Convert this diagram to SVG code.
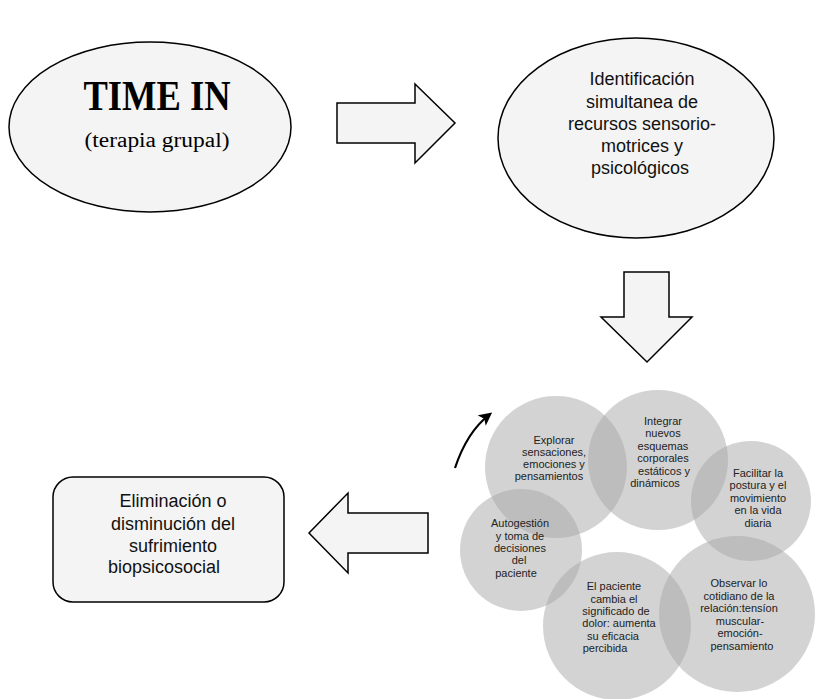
<svg xmlns="http://www.w3.org/2000/svg" width="834" height="699" viewBox="0 0 834 699">
<defs>
<style>
.node{fill:#f4f4f4;stroke:#000;stroke-width:1.5}
.blk{fill:#f4f4f4;stroke:#000;stroke-width:1.5;stroke-linejoin:miter}
.t{font-family:"Liberation Sans",Arial,Helvetica,sans-serif;font-size:18px;fill:#111;text-anchor:middle}
.s{font-family:"Liberation Sans",Arial,Helvetica,sans-serif;font-size:11px;fill:#222;text-anchor:middle}
.c{fill:#a8a8a8;fill-opacity:0.5}
</style>
<marker id="ah" viewBox="0 0 10 10" refX="7" refY="5" markerWidth="6" markerHeight="6" markerUnits="strokeWidth" orient="auto">
<path d="M0,0 L10,5 L0,10 L2.5,5 z" fill="#000"/>
</marker>
</defs>
<rect width="834" height="699" fill="#fff"/>

<g id="time-in">
<ellipse class="node" cx="150" cy="127" rx="141" ry="85"/>
<text x="157" y="110" font-family="'Liberation Serif','Times New Roman',serif" font-weight="bold" font-size="42" text-anchor="middle" textLength="147" lengthAdjust="spacingAndGlyphs">TIME IN</text>
<text x="157" y="147" font-family="'Liberation Serif','Times New Roman',serif" font-size="20" text-anchor="middle" textLength="145" lengthAdjust="spacingAndGlyphs">(terapia grupal)</text>
</g>

<g id="identificacion">
<ellipse class="node" cx="636" cy="138" rx="138" ry="100"/>
<text class="t" x="642" y="85">Identificación</text>
<text class="t" x="642" y="108">simultanea de</text>
<text class="t" x="642" y="130">recursos sensorio-</text>
<text class="t" x="642" y="152">motrices y</text>
<text class="t" x="640" y="174">psicológicos</text>
</g>

<g id="eliminacion">
<rect class="node" x="53" y="477" width="231" height="125" rx="20" ry="20"/>
<text class="t" x="173" y="507">Eliminación o</text>
<text class="t" x="173" y="530">disminución del</text>
<text class="t" x="173" y="552">sufrimiento</text>
<text class="t" x="164" y="573">biopsicosocial</text>
</g>

<g id="ciclo">
<circle class="c" cx="556" cy="467" r="71"/>
<circle class="c" cx="658" cy="460" r="70"/>
<circle class="c" cx="751" cy="501" r="60"/>
<circle class="c" cx="521" cy="550" r="61"/>
<circle class="c" cx="617" cy="626" r="74"/>
<circle class="c" cx="737" cy="614" r="78"/>
<g id="explorar">
<text class="s" x="554" y="444">Explorar</text>
<text class="s" x="554" y="456">sensaciones,</text>
<text class="s" x="554" y="468">emociones y</text>
<text class="s" x="549" y="480">pensamientos</text>
</g>
<g id="integrar">
<text class="s" x="663" y="425">Integrar</text>
<text class="s" x="663" y="437">nuevos</text>
<text class="s" x="663" y="450">esquemas</text>
<text class="s" x="663" y="462">corporales</text>
<text class="s" x="664" y="475">estáticos y</text>
<text class="s" x="655" y="487">dinámicos</text>
</g>
<g id="facilitar">
<text class="s" x="758" y="477">Facilitar la</text>
<text class="s" x="758" y="489">postura y el</text>
<text class="s" x="758" y="502">movimiento</text>
<text class="s" x="758" y="514">en la vida</text>
<text class="s" x="758" y="527">diaria</text>
</g>
<g id="autogestion">
<text class="s" x="520" y="527">Autogestión</text>
<text class="s" x="520" y="540">y toma de</text>
<text class="s" x="520" y="552">decisiones</text>
<text class="s" x="519" y="564">del</text>
<text class="s" x="516" y="577">paciente</text>
</g>
<g id="paciente">
<text class="s" x="614" y="590">El paciente</text>
<text class="s" x="614" y="603">cambia el</text>
<text class="s" x="616" y="615">significado de</text>
<text class="s" x="619" y="627">dolor: aumenta</text>
<text class="s" x="613" y="640">su eficacia</text>
<text class="s" x="605" y="652">percibida</text>
</g>
<g id="observar">
<text class="s" x="739" y="587">Observar lo</text>
<text class="s" x="739" y="600">cotidiano de la</text>
<text class="s" x="739" y="612">relación:tensíon</text>
<text class="s" x="740" y="625">muscular-</text>
<text class="s" x="740" y="637">emoción-</text>
<text class="s" x="742" y="650">pensamiento</text>
</g>
</g>

<g id="connectors">
<path class="blk" d="M337,103 L415,103 L415,84 L455,123 L415,163 L415,143 L337,143 Z"/>
<path class="blk" d="M624,272 L669,272 L669,317 L692,317 L647,362 L601,317 L624,317 Z"/>
<path class="blk" d="M428,513 L348,513 L348,493 L309,533 L348,573 L348,553 L428,553 Z"/>
<path d="M455,468 Q467,432 489,415" fill="none" stroke="#000" stroke-width="2.2" marker-end="url(#ah)"/>
</g>
</svg>
